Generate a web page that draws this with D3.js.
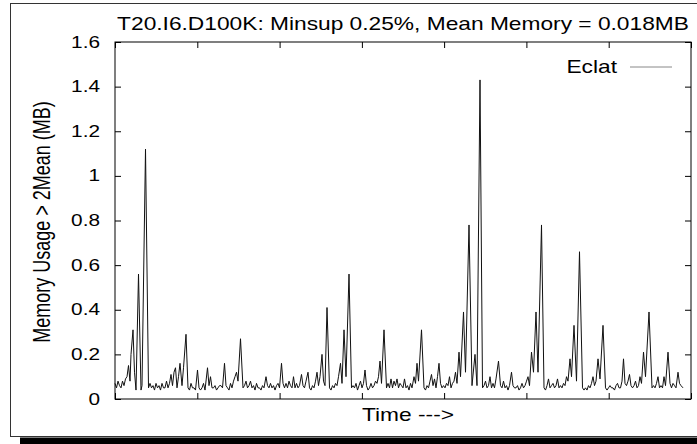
<!DOCTYPE html>
<html>
<head>
<meta charset="utf-8">
<script src="https://cdn.jsdelivr.net/npm/d3@7"></script>
<style>
  body { margin: 0; background: #fff; }
  text { font-family: "Liberation Sans", Arial, Helvetica, sans-serif; fill: #000; }
</style>
</head>
<body>
<svg id="chart" width="697" height="444"></svg>
<script>
// chart texts
var titleText = "T20.I6.D100K: Minsup 0.25%, Mean Memory = 0.018MB";
var yLabelText = "Memory Usage > 2Mean (MB)";
var xLabelText = "Time --->";
var seriesName = "Eclat";

// ticks
var yTicks = [0, 0.2, 0.4, 0.6, 0.8, 1, 1.2, 1.4, 1.6];
var yTickLabels = ["0", "0.2", "0.4", "0.6", "0.8", "1", "1.2", "1.4", "1.6"];
var xTicks = [0, 82.3, 164.6, 246.9, 329.1, 411.4, 493.7, 576];

// series (time in arbitrary units, memory in MB)
var times = [
  0,1.5,3,4.5,6,7.5,9,10.5,12,13.5,15,16,18,19.5,21,23.5,26,27,30.5,33.5,
  35,36.5,38,39.5,41,42.5,44,45.5,47,48.5,50,51.5,53,54.5,56,57.5,59,60.5,62,63.5,
  65,67,68.5,71,73,74.5,76,77.5,79,80.5,82.5,84,85.5,87,88.5,90,92.5,94,95.5,97,
  98.5,100,101.5,103,104.5,106,107.5,109.5,111,112.5,114,115.5,117,118.5,120,121.5,123,125.5,128,129.5,
  131,132.5,134,135.5,137,138.5,140,141.5,143,144.5,146,147.5,149,151,152.5,154,155.5,157,158.5,160,
  161.5,163,164.5,166.5,168,169.5,171,172.5,174,175.5,177,178.5,180,181.5,183,184.5,186.5,188,189.5,191,
  193,194.5,196,197.5,199,200.5,202,203.5,205,207,208.5,210,212,214.5,216,217.5,219,220.5,222,223.5,
  225.5,227,229,231,234,236.5,238,239.5,241,242.5,244,245.5,247,248.5,250,251.5,253,254.5,256,257.5,
  259,260.5,262,263.5,265,266.5,269,271.5,273,274.5,276,277.5,279,280.5,282,283.5,285,286.5,288,289.5,
  291,292.5,294,295.5,297,299,300.5,302,303.5,306.5,309,310.5,312,313.5,315,316.5,318,319.5,321,322.5,
  324,325.5,327,328.5,330,331.5,333,334.5,336,337.5,339,340.5,342,344,345.5,348.5,350.5,354,357,360,
  362,365,367.5,369,370.5,372,373.5,375,376.5,378,379.5,381,383.5,385.5,387,388.5,390,391.5,393,394.5,
  396.5,398,399.5,401,402.5,404,405.5,407,408.5,410,411.5,413,414.5,416.5,418.5,421,423,426.5,429,430.5,
  432,433.5,435,436.5,438,439.5,441,442.5,444,445.5,447,448.5,450,451.5,453,455,456.5,459,461.5,464.5,
  467.5,469,470.5,472,473.5,475,476.5,478,479.5,481,483,485,488,490.5,492,493.5,495,496.5,498,499.5,
  501,502.5,504,505.5,507,508.5,510,511.5,513,514.5,516,517.5,519,520.5,522,523.5,525,526.5,528.5,530.5,
  534,537,538.5,540,541.5,543,544.5,546,547.5,549,550.5,553,555,556.5,558,559.5,561,563,564.5,566,
  568
];
var memory = [
  .07,.05,.08,.06,.05,.08,.06,.09,.1,.15,.08,.2,.31,.12,.04,.56,.04,.06,1.12,.05,
  .07,.05,.06,.04,.07,.05,.06,.04,.07,.05,.05,.08,.05,.07,.11,.06,.12,.14,.05,.1,
  .16,.06,.14,.29,.05,.04,.07,.05,.05,.04,.13,.05,.04,.05,.07,.04,.14,.06,.1,.05,
  .05,.06,.04,.05,.06,.06,.05,.16,.06,.05,.04,.07,.05,.08,.1,.12,.08,.27,.05,.06,
  .08,.05,.06,.08,.05,.06,.04,.07,.05,.05,.04,.06,.05,.1,.06,.05,.07,.05,.06,.04,
  .06,.07,.05,.16,.07,.05,.07,.05,.08,.06,.05,.1,.05,.07,.05,.06,.11,.06,.05,.08,
  .12,.05,.04,.06,.05,.08,.12,.06,.1,.2,.08,.06,.41,.05,.04,.06,.05,.07,.06,.1,
  .16,.07,.31,.1,.56,.05,.06,.05,.07,.04,.06,.08,.05,.07,.13,.06,.04,.05,.07,.05,
  .06,.08,.07,.1,.17,.07,.31,.05,.07,.05,.09,.05,.08,.06,.09,.05,.07,.06,.05,.09,
  .05,.06,.04,.07,.05,.1,.07,.16,.08,.31,.05,.04,.06,.05,.08,.11,.06,.09,.05,.1,
  .16,.07,.05,.06,.05,.07,.06,.1,.05,.07,.08,.12,.07,.21,.1,.39,.12,.78,.06,.2,
  .06,1.43,.05,.06,.08,.05,.06,.1,.05,.07,.05,.09,.17,.06,.05,.08,.05,.06,.04,.06,
  .12,.06,.05,.05,.06,.04,.05,.07,.05,.06,.08,.1,.06,.21,.12,.39,.12,.78,.05,.04,
  .06,.09,.05,.06,.07,.05,.06,.09,.05,.06,.05,.07,.06,.1,.08,.18,.1,.33,.08,.66,
  .05,.04,.05,.04,.06,.05,.07,.1,.06,.08,.18,.09,.33,.05,.04,.05,.06,.05,.05,.04,
  .06,.07,.05,.05,.08,.18,.07,.06,.08,.11,.06,.05,.06,.08,.05,.06,.1,.07,.21,.1,
  .39,.05,.06,.05,.07,.1,.05,.06,.05,.1,.06,.21,.07,.05,.07,.06,.05,.12,.07,.06,
  .05
];

var svg = d3.select("#chart");
var plot = { left: 115, right: 691, top: 42, bottom: 399 };
var stretch = 1.3;

var xScale = d3.scaleLinear().domain([0, 576]).range([plot.left, plot.right]);
var yScale = d3.scaleLinear().domain([0, 1.6]).range([plot.bottom, plot.top]);

// outer frame and its shadow
svg.append("rect")
  .attr("x", 20).attr("y", 437.5).attr("width", 700).attr("height", 10)
  .attr("fill", "#000");
svg.append("rect")
  .attr("x", 10.5).attr("y", 3.5).attr("width", 700).attr("height", 433)
  .attr("fill", "#fff").attr("stroke", "#333").attr("stroke-width", 1);

var addText = function(x, y, str, anchor, size, rot) {
  return svg.append("text")
    .attr("transform", "translate(" + x + "," + y + ") scale(" + stretch + ",1)" + (rot ? " rotate(" + rot + ")" : ""))
    .attr("text-anchor", anchor)
    .style("font-size", size + "px")
    .text(str);
};

// tick marks (inward, on all four sides)
var tickLen = 6;
svg.append("g").attr("transform", "translate(" + plot.left + ",0)")
  .call(d3.axisLeft(yScale).tickValues(yTicks).tickSize(-tickLen).tickFormat(""));
svg.append("g").attr("transform", "translate(" + plot.right + ",0)")
  .call(d3.axisRight(yScale).tickValues(yTicks).tickSize(-tickLen).tickFormat(""));
svg.append("g").attr("transform", "translate(0," + plot.bottom + ")")
  .call(d3.axisBottom(xScale).tickValues(xTicks).tickSize(-tickLen).tickFormat(""));
svg.append("g").attr("transform", "translate(0," + plot.top + ")")
  .call(d3.axisTop(xScale).tickValues(xTicks).tickSize(-tickLen).tickFormat(""));
svg.selectAll(".domain").remove();
svg.selectAll(".tick line").attr("stroke", "#000");

// y tick labels
yTicks.forEach(function(v, i) {
  addText(100, yScale(v) + 5.5, yTickLabels[i], "end", 16, 0);
});

// the series line
var line = d3.line()
  .x(function(d, i) { return xScale(times[i]); })
  .y(function(d) { return yScale(d); });

svg.append("path")
  .datum(memory)
  .attr("d", line)
  .attr("fill", "none")
  .attr("stroke", "#111")
  .attr("stroke-width", 1);

// plot border
svg.append("rect")
  .attr("x", plot.left).attr("y", plot.top)
  .attr("width", plot.right - plot.left).attr("height", plot.bottom - plot.top)
  .attr("fill", "none").attr("stroke", "#000").attr("stroke-width", 1);

// title, axis labels
addText(403, 30, titleText, "middle", 17.5, 0);
addText(408, 421, xLabelText, "middle", 17.5, 0);
addText(50, 222, yLabelText, "middle", 18, -90);

// legend
addText(617, 73, seriesName, "end", 17.5, 0);
svg.append("line")
  .attr("x1", 630).attr("x2", 672).attr("y1", 67).attr("y2", 67)
  .attr("stroke", "#888").attr("stroke-width", 1);
</script>
</body>
</html>
